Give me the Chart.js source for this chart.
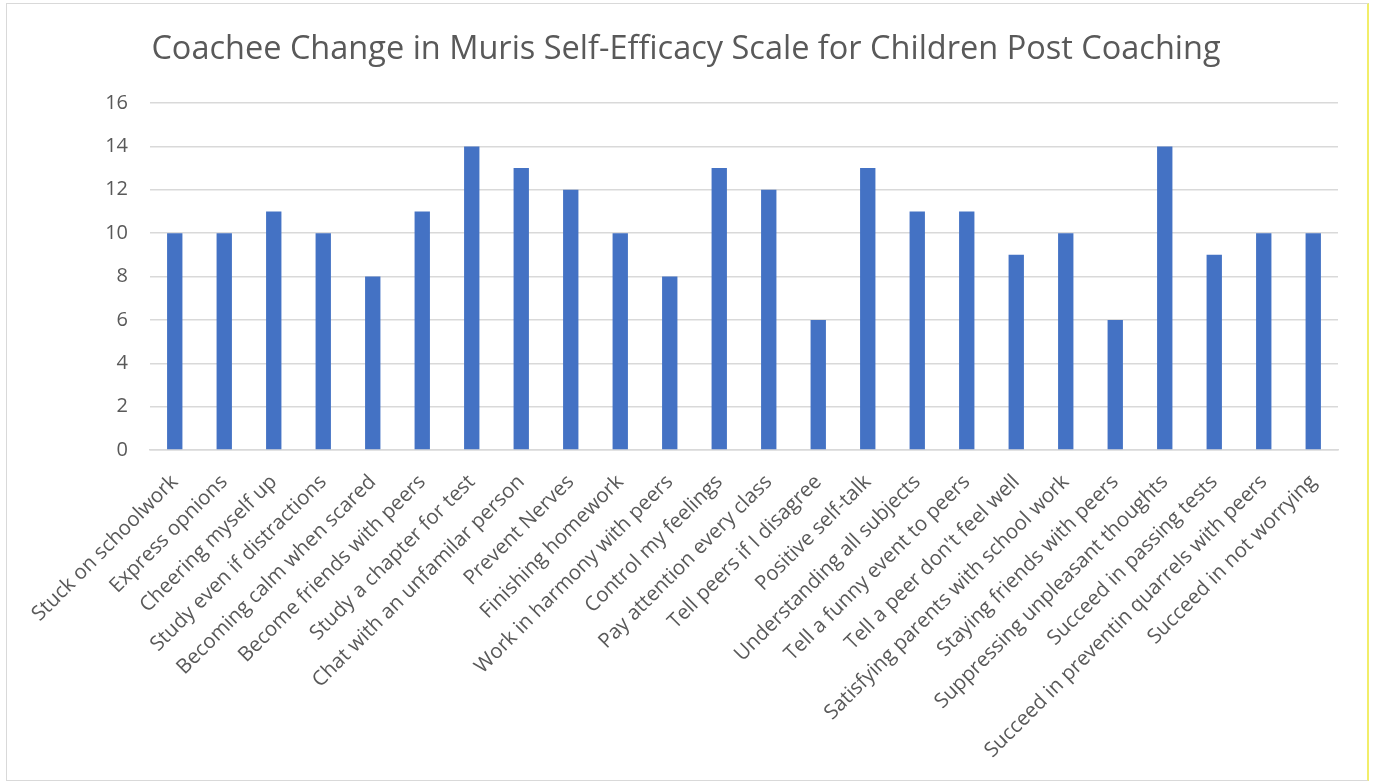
<!DOCTYPE html>
<html>
<head>
<meta charset="utf-8">
<script src="https://cdn.jsdelivr.net/npm/chart.js@4/dist/chart.umd.min.js"></script>
<style>
  html, body { margin: 0; padding: 0; background: #fff; }
  #box {
    position: absolute; left: 6px; top: 3px; width: 1360px; height: 776px;
    border: 1px solid #d9d9d9; border-right: 2px solid #f2ee6a;
  }
</style>
</head>
<body>
<div id="box"><canvas id="myChart" width="1360" height="776"></canvas></div>
<script>
'use strict';
let categories = [
  'Stuck on schoolwork',
  'Express opnions',
  'Cheering myself up',
  'Study even if distractions',
  'Becoming calm when scared',
  'Become friends with peers',
  'Study a chapter for test',
  'Chat with an unfamilar person',
  'Prevent Nerves',
  'Finishing homework',
  'Work in harmony with peers',
  'Control my feelings',
  'Pay attention every class',
  'Tell peers if I disagree',
  'Positive self-talk',
  'Understanding all subjects',
  'Tell a funny event to peers',
  'Tell a peer don\'t feel well',
  'Satisfying parents with school work',
  'Staying friends with peers',
  'Suppressing unpleasant thoughts',
  'Succeed in passing tests',
  'Succeed in preventin quarrels with peers',
  'Succeed in not worrying'];
let scores = [10, 10, 11, 10, 8, 11, 14, 13, 12, 10, 8, 13, 12, 6, 13, 11, 11, 9, 10, 6, 14, 9, 10, 10];
let yTicks = [0, 2, 4, 6, 8, 10, 12, 14, 16];

let txt = '#595959';
let font = '"Open Sans", "DejaVu Sans", sans-serif';

let ctx = document.getElementById('myChart').getContext('2d');
let myChart = new Chart(ctx, {
  type: 'bar',
  data: {
    labels: categories,
    datasets: [{
      label: 'Score',
      data: scores,
      backgroundColor: '#4472C4',
      categoryPercentage: 1,
      barPercentage: 0.31
    }]
  },
  options: {
    responsive: false,
    animation: false,
    // left/right split keeps the title centred on the page
    layout: { padding: { left: 27, right: 29, top: 0, bottom: 0 } },
    plugins: {
      legend: { display: false },
      tooltip: { enabled: false },
      title: {
        display: true,
        text: 'Coachee Change in Muris Self-Efficacy Scale for Children Post Coaching',
        color: txt,
        font: { family: font, size: 32.5, weight: 'normal' },
        padding: { top: 26, bottom: 34 }
      }
    },
    scales: {
      y: {
        min: yTicks[0],
        max: yTicks[yTicks.length - 1],
        afterBuildTicks: function (axis) {
          axis.ticks = yTicks.map(function (v) { return { value: v }; });
        },
        afterFit: function (axis) { axis.width = 116; },
        border: { display: false },
        grid: { color: '#d9d9d9', lineWidth: 1.5, drawTicks: false },
        ticks: { color: txt, padding: 22, font: { family: font, size: 20 } }
      },
      x: {
        afterFit: function (axis) { axis.height = 330; },
        border: { color: '#d9d9d9', width: 1.5 },
        grid: { display: false },
        ticks: {
          color: txt,
          minRotation: 45,
          maxRotation: 45,
          autoSkip: false,
          padding: 12,
          font: { family: font, size: 20.5 }
        }
      }
    }
  }
});
</script>
</body>
</html>
